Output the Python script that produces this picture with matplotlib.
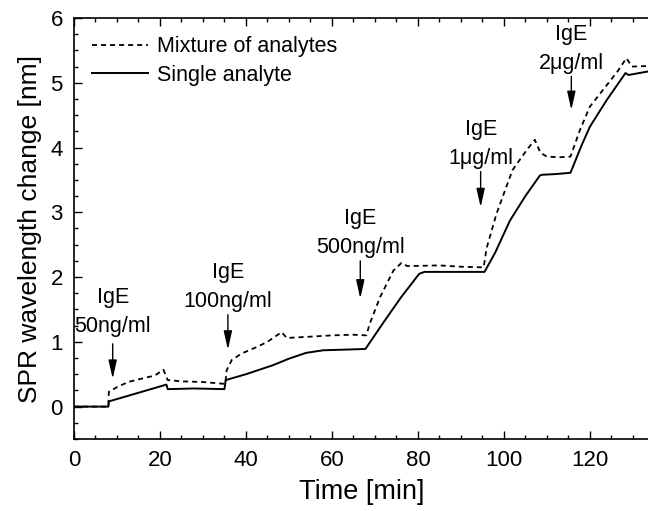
import matplotlib
matplotlib.use("Agg")
import matplotlib.pyplot as plt
from matplotlib.ticker import MultipleLocator

plt.rcParams['font.family'] = ['Liberation Sans', 'DejaVu Sans']

# Single analyte (solid)
solid_t = [0, 8, 8.1, 21.5, 21.8, 28, 35, 35.3, 40, 46.3, 50, 54, 58, 63, 67.8,
           72, 76, 80.3, 81.5, 88, 95.5, 98, 101.4, 105, 108.4, 109, 112, 115.5,
           118, 120, 123.9, 128.3, 129.0, 134]
solid_v = [0, 0, 0.08, 0.34, 0.27, 0.28, 0.27, 0.41, 0.50, 0.64, 0.74, 0.83, 0.87, 0.88, 0.89,
           1.30, 1.68, 2.05, 2.08, 2.08, 2.08, 2.38, 2.87, 3.25, 3.57, 3.58, 3.59, 3.61,
           4.02, 4.32, 4.73, 5.15, 5.12, 5.18]

# Mixture of analytes (dashed)
mix_t = [0, 8, 8.1, 10, 12.6, 15, 18.8, 20.8, 21.8, 25, 30, 35.2, 35.5, 36.7, 39, 42.5,
         45, 48.3, 49.5, 55, 60, 65, 68, 68.8, 71.2, 74.3, 76.2, 77.5, 85, 90, 95.3,
         96, 98.3, 102, 105.3, 107.2, 108.5, 110, 113, 115.5, 117.7, 120, 123.9, 126.5,
         128.5, 129.8, 134]
mix_v = [0, 0, 0.23, 0.30, 0.38, 0.42, 0.48, 0.57, 0.41, 0.39, 0.38, 0.35, 0.56, 0.72, 0.82, 0.92,
         1.00, 1.15, 1.06, 1.08, 1.10, 1.11, 1.10, 1.28, 1.69, 2.10, 2.22, 2.17, 2.18, 2.16, 2.15,
         2.45, 2.98, 3.65, 3.96, 4.12, 3.92, 3.86, 3.85, 3.86, 4.27, 4.63, 4.96, 5.18,
         5.38, 5.25, 5.26]

# Injection annotations
ann_labels = ["IgE\n50ng/ml", "IgE\n100ng/ml", "IgE\n500ng/ml", "IgE\n1\u03bcg/ml", "IgE\n2\u03bcg/ml"]
ann_x = [9.0, 35.8, 66.6, 94.6, 115.7]
ann_tip = [0.43, 0.88, 1.67, 3.08, 4.58]
ann_top = [0.97, 1.42, 2.25, 3.63, 5.10]
ann_text_y = [1.07, 1.46, 2.29, 3.67, 5.14]

fig = plt.figure(figsize=(6.48, 5.11), dpi=100)
ax = fig.add_axes([74/648, 72/511, 576/648, 421/511])

ax.plot(mix_t, mix_v, color='black', lw=1.3, dashes=(2.8, 2.2), label='Mixture of analytes')
ax.plot(solid_t, solid_v, color='black', lw=1.4, label='Single analyte')

for lab, x, tip, top, ty in zip(ann_labels, ann_x, ann_tip, ann_top, ann_text_y):
    ax.annotate('', xy=(x, tip), xytext=(x, top),
                arrowprops=dict(arrowstyle='-|>,head_width=0.18,head_length=0.8',
                                color='black', lw=1.0,
                                mutation_scale=14, shrinkA=0, shrinkB=0))
    ax.text(x, ty, lab, ha='center', va='bottom', fontsize=15.5,
            linespacing=1.5)

ax.set_xlim(0, 134)
ax.set_ylim(-0.5, 6)
ax.xaxis.set_major_locator(MultipleLocator(20))
ax.xaxis.set_minor_locator(MultipleLocator(5))
ax.yaxis.set_major_locator(MultipleLocator(1))
ax.yaxis.set_minor_locator(MultipleLocator(0.25))
ax.tick_params(which='both', direction='in', top=True, right=False, labelsize=16, width=1)
ax.tick_params(which='major', length=6, pad=8)
ax.tick_params(which='minor', length=3)
for s in ax.spines.values():
    s.set_linewidth(1.2)

ax.set_xlabel('Time [min]', fontsize=19.5, labelpad=6)
ax.set_ylabel('SPR wavelength change [nm]', fontsize=19, labelpad=6)

ax.legend(loc='upper left', frameon=False, fontsize=15.5, handlelength=2.6,
          handletextpad=0.4, labelspacing=0.35, borderaxespad=0.45)

fig.savefig('out.png', dpi=100)
